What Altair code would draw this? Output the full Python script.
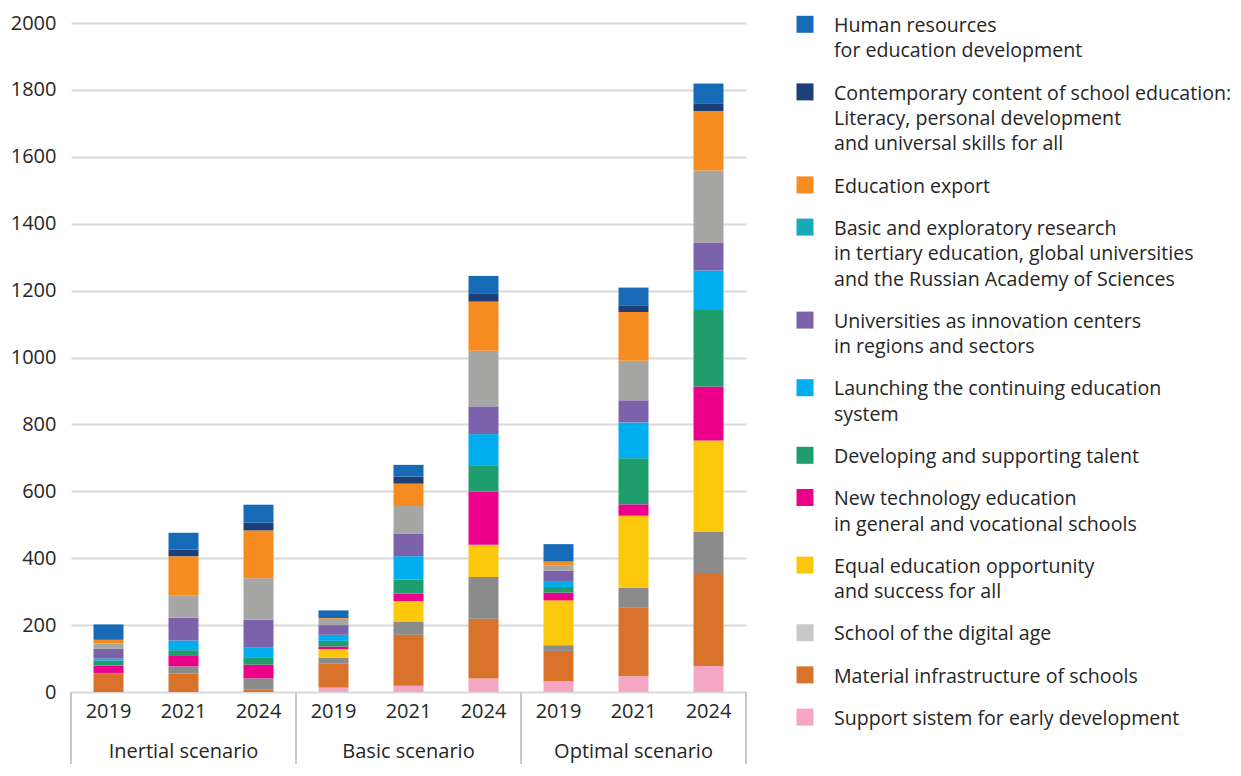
import altair as alt
import pandas as pd

# ---------------- data ----------------
scenarios = ["Inertial scenario", "Basic scenario", "Optimal scenario"]
years = ["2019", "2021", "2024"]

# stacking order, bottom to top
categories = [
    "Support sistem for early development",
    "Material infrastructure of schools",
    "School of the digital age",
    "Equal education opportunity and success for all",
    "New technology education in general and vocational schools",
    "Developing and supporting talent",
    "Launching the continuing education system",
    "Universities as innovation centers in regions and sectors",
    "Basic and exploratory research in tertiary education, global universities and the Russian Academy of Sciences",
    "Education export",
    "Contemporary content of school education: Literacy, personal development and universal skills for all",
    "Human resources for education development",
]

# legend labels (as printed, with line breaks), same order as categories
legend_labels = [
    "Support sistem for early development",
    "Material infrastructure of schools",
    "School of the digital age",
    "Equal education opportunity\nand success for all",
    "New technology education\nin general and vocational schools",
    "Developing and supporting talent",
    "Launching the continuing education\nsystem",
    "Universities as innovation centers\nin regions and sectors",
    "Basic and exploratory research\nin tertiary education, global universities\nand the Russian Academy of Sciences",
    "Education export",
    "Contemporary content of school education:\nLiteracy, personal development\nand universal skills for all",
    "Human resources\nfor education development",
]

# values per bar: Inertial 2019, 2021, 2024, Basic 2019, 2021, 2024, Optimal 2019, 2021, 2024
v_early      = [0, 0, 0, 13, 19, 40, 32, 47, 78]
v_material   = [54, 55, 8, 73, 152, 179, 91, 206, 278]
v_digital    = [3, 22, 33, 17, 40, 125, 17, 59, 124]
v_equal      = [0, 0, 0, 25, 61, 96, 134, 215, 272]
v_newtech    = [22, 33, 41, 8, 22, 159, 23, 34, 161]
v_talent     = [15, 15, 20, 17, 42, 79, 17, 138, 229]
v_continuing = [6, 29, 32, 18, 70, 93, 18, 107, 118]
v_univ       = [29, 68, 82, 29, 68, 83, 31, 66, 84]
v_research   = [16, 66, 124, 19, 82, 166, 16, 118, 215]
v_export     = [11, 118, 143, 2, 67, 147, 11, 146, 178]
v_content    = [0, 20, 23, 0, 21, 23, 0, 20, 23]
v_human      = [46, 50, 54, 23, 35, 54, 52, 53, 59]

series = [v_early, v_material, v_digital, v_equal, v_newtech, v_talent,
          v_continuing, v_univ, v_research, v_export, v_content, v_human]

# ---------------- styles ----------------
bar_colors = ["#f4a6c4", "#d9732b", "#8c8b8b", "#fcc80c", "#ec008b", "#1f9e6d",
              "#00aeef", "#7b62aa", "#a6a6a5", "#f68c20", "#1c3f77", "#176bb6"]
legend_colors = ["#f4a6c4", "#d9732b", "#c8c8ca", "#fcc80c", "#ec008b", "#1f9e6d",
                 "#00aeef", "#7b62aa", "#17a8ba", "#f68c20", "#1c3f77", "#176bb6"]

FONT = "Open Sans"
TXT = "#262626"
W, H = 675, 669
FS = 20
LFS = 19.6

# ---------------- tables ----------------
bar_ids = [f"{s}|{y}" for s in scenarios for y in years]
rows = []
for ci, (cat, vals) in enumerate(zip(categories, series)):
    for bi, v in enumerate(vals):
        rows.append({"bar": bar_ids[bi], "category": cat, "value": v, "idx": ci})
df = pd.DataFrame(rows)

bars = alt.Chart(df).mark_bar().encode(
    x=alt.X("bar:N", sort=bar_ids,
            scale=alt.Scale(domain=bar_ids, paddingInner=0.6, paddingOuter=0.3),
            axis=alt.Axis(title=None, labelExpr="split(datum.label, '|')[1]",
                          ticks=False, domain=False, labelAngle=0, labelPadding=9,
                          labelFontSize=FS, labelColor=TXT, labelFont=FONT, grid=False)),
    y=alt.Y("value:Q", stack="zero",
            scale=alt.Scale(domain=[0, 2000], nice=False),
            axis=alt.Axis(title=None, values=list(range(0, 2001, 200)), format="d",
                          ticks=False, domain=False, labelPadding=15, labelFontSize=FS,
                          labelColor=TXT, labelFont=FONT, gridColor="#d9d9d9",
                          gridWidth=2)),
    color=alt.Color("category:N", scale=alt.Scale(domain=categories, range=bar_colors),
                    legend=None),
    order=alt.Order("idx:Q", sort="ascending"),
)

n_per = len(years)
edges = pd.DataFrame({"pos": [i * n_per for i in range(len(scenarios) + 1)]})
seps = alt.Chart(edges).mark_rule(color="#c8c8c8", strokeWidth=2).encode(
    x=alt.X("pos:Q", scale=alt.Scale(domain=[0, len(bar_ids)], nice=False, zero=False), axis=None),
    y=alt.value(H),
    y2=alt.value(H + 72),
)

scen_df = pd.DataFrame({"scenario": scenarios,
                        "pos": [i * n_per + n_per / 2 for i in range(len(scenarios))]})
scen_text = alt.Chart(scen_df).mark_text(font=FONT, fontSize=FS, color=TXT,
                                         baseline="middle", align="center").encode(
    x=alt.X("pos:Q", scale=alt.Scale(domain=[0, len(bar_ids)], nice=False, zero=False), axis=None),
    y=alt.value(H + 60),
    text="scenario:N",
)

# legend (top of list = top of stack)
LH, GAP = 25.4, 16.8
leg_rows = []
ytop = -6.0
for i in reversed(range(len(categories))):
    lab = legend_labels[i]
    n = lab.count("\n") + 1
    leg_rows.append({"label": lab, "color": legend_colors[i], "ytext": ytop, "ysq": ytop + 7.3})
    ytop += n * LH + GAP
leg = pd.DataFrame(leg_rows)

px_x = alt.Scale(domain=[0, W], nice=False, zero=False)
px_y = alt.Scale(domain=[H, 0], nice=False, zero=False)

leg_sq = alt.Chart(leg).mark_square(size=289, opacity=1, filled=True).encode(
    x=alt.X("sx:Q", scale=px_x, axis=None),
    y=alt.Y("ysq:Q", scale=px_y, axis=None),
    color=alt.Color("color:N", scale=None),
).transform_calculate(sx="734")

leg_text = alt.Chart(leg).mark_text(font=FONT, fontSize=LFS, color=TXT, align="left",
                                    baseline="top", lineBreak="\n", lineHeight=LH).encode(
    x=alt.X("tx:Q", scale=px_x, axis=None),
    y=alt.Y("ytext:Q", scale=px_y, axis=None),
    text="label:N",
).transform_calculate(tx="763")

chart = alt.layer(bars, seps, scen_text, leg_sq, leg_text).resolve_scale(
    x="independent", y="independent", color="independent"
).properties(
    width=W, height=H,
    padding={"left": 2, "top": 5, "right": 0, "bottom": 2},
).configure_view(stroke=None)

chart.save("out.html", embed_options={"renderer": "svg", "actions": False})
